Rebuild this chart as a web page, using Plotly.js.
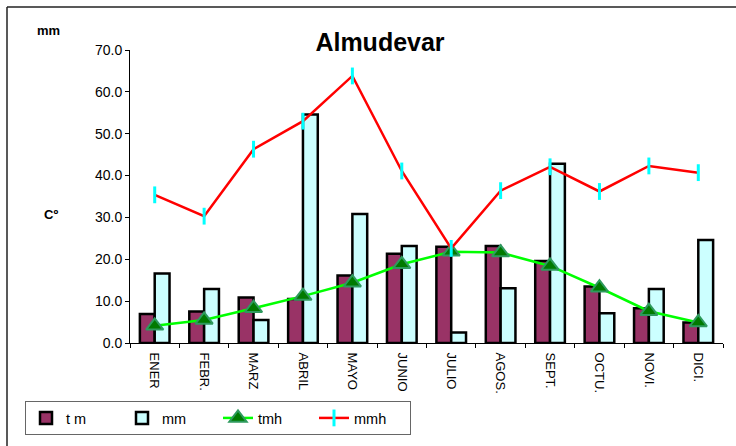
<!DOCTYPE html>
<html>
<head>
<meta charset="utf-8">
<script src="https://cdn.plot.ly/plotly-3.0.1.min.js"></script>
<style>html,body{margin:0;padding:0;background:#fff;}#chart{width:736px;height:446px;}</style>
</head>
<body>
<div id="chart"></div>
<script>
const months = ["ENER", "FEBR.", "MARZ", "ABRIL", "MAYO", "JUNIO", "JULIO", "AGOS.", "SEPT.", "OCTU.", "NOVI.", "DICI."];
const tm  = [6.9, 7.5, 10.9, 10.5, 16.1, 21.3, 23.0, 23.2, 19.6, 13.5, 8.3, 4.9];
const mm  = [16.6, 12.9, 5.5, 54.6, 30.8, 23.2, 2.5, 13.1, 42.8, 7.1, 12.9, 24.6];
const tmh = [4.1, 5.5, 8.3, 11.2, 14.4, 18.8, 21.8, 21.6, 18.4, 13.2, 7.6, 4.9];
const mmh = [35.4, 30.3, 46.3, 53.0, 63.8, 41.1, 22.6, 36.4, 42.1, 36.2, 42.3, 40.7];
const yTicks = [0, 10, 20, 30, 40, 50, 60, 70];

const font = "Arial, 'Liberation Sans', sans-serif";

const traces = [
  {type: "bar", name: "t m", x: months, y: tm,
   marker: {color: "#993366", line: {color: "#000", width: 2.5}}},
  {type: "bar", name: "mm", x: months, y: mm,
   marker: {color: "#CCFFFF", line: {color: "#000", width: 2.5}}},
  {type: "scatter", mode: "lines+markers", name: "tmh", x: months, y: tmh,
   line: {color: "#00FF00", width: 2.5},
   marker: {symbol: "triangle-up", size: 15, color: "#007A00", line: {color: "#2E9A5E", width: 2}}},
  {type: "scatter", mode: "lines+markers", name: "mmh", x: months, y: mmh,
   line: {color: "#FF0000", width: 2.5},
   marker: {symbol: "line-ns", size: 12, line: {color: "#00FFFF", width: 3}}}
];

const L = 130, R = 723, T = 50, B = 343;
const px = v => (v - L) / (R - L);
const py = v => (B - v) / (B - T);

const layout = {
  width: 736, height: 446,
  margin: {l: L, r: 736 - R, t: T, b: 446 - B, autoexpand: false},
  paper_bgcolor: "#fff", plot_bgcolor: "#fff",
  font: {family: font, color: "#000"},
  barmode: "group", bargap: 0.4, bargroupgap: 0,
  title: {text: "Almudevar", font: {family: font, size: 25, weight: "bold", color: "#000"},
          xref: "paper", x: px(380), xanchor: "center", yref: "container", y: 1 - 42/446, yanchor: "middle"},
  xaxis: {type: "category", categoryarray: months, range: [-0.5, 11.5],
          showline: true, linecolor: "#000", linewidth: 1,
          ticks: "outside", ticklen: 4, tickcolor: "#000", tickson: "boundaries", ticklabelstandoff: 6,
          tickangle: 90, tickfont: {family: font, size: 13}, showgrid: false, zeroline: false, fixedrange: true},
  xaxis2: {type: "category", categoryarray: months, range: [-0.5, 11.5], overlaying: "x", anchor: "y",
          showline: false, ticks: "inside", ticklen: 4, tickcolor: "#000", tickson: "boundaries",
          showticklabels: false, showgrid: false, zeroline: false},
  yaxis: {range: [0, 70], tickvals: yTicks, tickformat: ".1f",
          showline: true, linecolor: "#000", linewidth: 1,
          ticks: "outside", ticklen: 4, tickcolor: "#000",
          tickfont: {family: font, size: 14}, showgrid: false, zeroline: false, fixedrange: true},
  yaxis2: {range: [0, 70], tickvals: yTicks, overlaying: "y", anchor: "x", side: "left",
          showline: false, ticks: "inside", ticklen: 4, tickcolor: "#000",
          showticklabels: false, showgrid: false, zeroline: false},
  showlegend: true,
  legend: {orientation: "h", x: px(25), xanchor: "left", y: py(401), yanchor: "top",
           bgcolor: "#fff", bordercolor: "#666", borderwidth: 1,
           font: {family: font, size: 14.5}, traceorder: "normal", entrywidth: 51, entrywidthmode: "pixels"},
  annotations: [
    {text: "<b>mm</b>", xref: "paper", yref: "paper", x: px(48), y: py(31), xanchor: "center", yanchor: "middle",
     showarrow: false, font: {family: font, size: 13}},
    {text: "<b>Cº</b>", xref: "paper", yref: "paper", x: px(51), y: py(215), xanchor: "center", yanchor: "middle",
     showarrow: false, font: {family: font, size: 13}}
  ],
  shapes: [
    {type: "line", xref: "paper", yref: "paper", x0: px(7), x1: px(7), y0: py(7), y1: py(460),
     line: {color: "#222", width: 1.5}},
    {type: "line", xref: "paper", yref: "paper", x0: px(7), x1: px(760), y0: py(7), y1: py(7),
     line: {color: "#222", width: 1.5}}
  ]
};

Plotly.newPlot("chart", traces, layout, {displayModeBar: false, staticPlot: true});
</script>
</body>
</html>
